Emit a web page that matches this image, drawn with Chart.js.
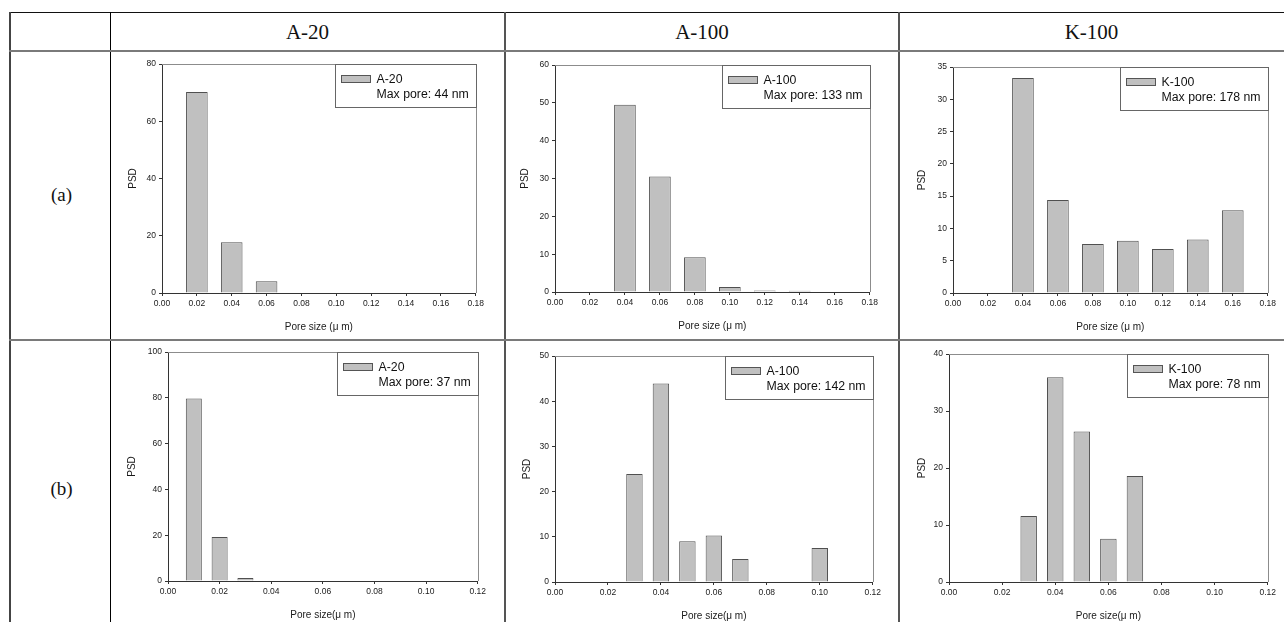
<!DOCTYPE html>
<html>
<head>
<meta charset="utf-8">
<script src="https://cdn.jsdelivr.net/npm/chart.js@4.4.1/dist/chart.umd.min.js"></script>
<style>
  body { margin: 0; width: 1284px; height: 622px; overflow: hidden; background: #fff; position: relative;
         font-family: 'Liberation Serif', 'Times New Roman', serif; color: #111; }
  .line { position: absolute; background: #333; z-index: 2; }
  .head { position: absolute; top: 12px; height: 39px; line-height: 40px; text-align: center; font-size: 21px; }
  .rowlab { position: absolute; left: 12px; width: 99px; text-align: center; font-size: 19px; line-height: 24px; }
  canvas { position: absolute; }
</style>
</head>
<body>
<!-- lignes du tableau -->
<div class="line" style="left:9px;top:12px;width:1275px;height:1px;background:#111"></div>
<div class="line" style="left:9px;top:12px;width:2px;height:610px;background:#444"></div>
<div class="line" style="left:110px;top:12px;width:1px;height:610px;background:#000"></div>
<div class="line" style="left:504px;top:12px;width:2px;height:610px;background:#555"></div>
<div class="line" style="left:898px;top:12px;width:2px;height:610px;background:#555"></div>
<div class="line" style="left:9px;top:50px;width:1275px;height:2px;background:#7a7a7a"></div>
<div class="line" style="left:9px;top:339px;width:1275px;height:2px;background:#7a7a7a"></div>

<div id="heads"></div>

<script>
// --- données ---
const panelNames = ['A-20', 'A-100', 'K-100'];
const rowLabels = ['(a)', '(b)'];
const maxPoreA = [44, 133, 178];
const maxPoreB = [37, 142, 78];
const xTitleA = 'Pore size (\u03bc m)';
const xTitleB = 'Pore size(\u03bc m)';

// ligne (a) : classes de 0.02 µm
const sizesA20a = [0.02, 0.04, 0.06];
const psdA20a = [70.2, 17.7, 4.1];
const sizesA100a = [0.04, 0.06, 0.08, 0.10, 0.12, 0.14];
const psdA100a = [49.5, 30.5, 9.2, 1.3, 0.4, 0.3];
const sizesK100a = [0.04, 0.06, 0.08, 0.10, 0.12, 0.14, 0.16];
const psdK100a = [33.3, 14.4, 7.6, 8.1, 6.8, 8.3, 12.8];

// ligne (b) : classes de 0.01 µm
const sizesA20b = [0.01, 0.02, 0.03];
const psdA20b = [79.7, 19.2, 1.3];
const sizesA100b = [0.03, 0.04, 0.05, 0.06, 0.07, 0.10];
const psdA100b = [23.9, 43.9, 9.0, 10.3, 5.1, 7.5];
const sizesK100b = [0.03, 0.04, 0.05, 0.06, 0.07];
const psdK100b = [11.6, 35.9, 26.4, 7.6, 18.6];

const xMaxA = 0.18, xMaxB = 0.12;
const yMaxA = [80, 60, 35], yStepA = [20, 10, 5];
const yMaxB = [100, 50, 40], yStepB = [20, 10, 10];

// zones de tracé (px) de chaque graphique
const plotBoxes = [
  { L: 162, T: 64, R: 479, B: 293, psdGap: 29 },
  { L: 555, T: 65, R: 873, B: 292, psdGap: 30 },
  { L: 953, T: 67, R: 1271, B: 293, psdGap: 31 },
  { L: 168, T: 352, R: 481, B: 581, psdGap: 36 },
  { L: 555, T: 356, R: 876, B: 582, psdGap: 28 },
  { L: 949, T: 354, R: 1271, B: 582, psdGap: 27 }
];

const panels = [
  { name: panelNames[0], maxPore: maxPoreA[0], sizes: sizesA20a, psd: psdA20a, xMax: xMaxA, yMax: yMaxA[0], yStep: yStepA[0], xTitle: xTitleA },
  { name: panelNames[1], maxPore: maxPoreA[1], sizes: sizesA100a, psd: psdA100a, xMax: xMaxA, yMax: yMaxA[1], yStep: yStepA[1], xTitle: xTitleA },
  { name: panelNames[2], maxPore: maxPoreA[2], sizes: sizesK100a, psd: psdK100a, xMax: xMaxA, yMax: yMaxA[2], yStep: yStepA[2], xTitle: xTitleA },
  { name: panelNames[0], maxPore: maxPoreB[0], sizes: sizesA20b, psd: psdA20b, xMax: xMaxB, yMax: yMaxB[0], yStep: yStepB[0], xTitle: xTitleB },
  { name: panelNames[1], maxPore: maxPoreB[1], sizes: sizesA100b, psd: psdA100b, xMax: xMaxB, yMax: yMaxB[1], yStep: yStepB[1], xTitle: xTitleB },
  { name: panelNames[2], maxPore: maxPoreB[2], sizes: sizesK100b, psd: psdK100b, xMax: xMaxB, yMax: yMaxB[2], yStep: yStepB[2], xTitle: xTitleB }
];

const SANS = "'Liberation Sans', Arial, sans-serif";
const YW = 52, XH = 46, PAD_T = 10, PAD_R = 8;

// en-têtes et libellés de lignes
const heads = document.getElementById('heads');
const colSpans = [[110, 505], [505, 899], [899, 1284]];
panelNames.forEach((n, i) => {
  const d = document.createElement('div');
  d.className = 'head';
  d.style.left = colSpans[i][0] + 'px';
  d.style.width = (colSpans[i][1] - colSpans[i][0]) + 'px';
  d.textContent = n;
  heads.appendChild(d);
});
[195, 489].forEach((y, i) => {
  const d = document.createElement('div');
  d.className = 'rowlab';
  d.style.top = (y - 12) + 'px';
  d.textContent = rowLabels[i];
  heads.appendChild(d);
});

// cadre haut / droite du tracé (gris)
const framePlugin = {
  id: 'frame',
  afterDraw(chart) {
    const { ctx, chartArea: a } = chart;
    ctx.save();
    ctx.strokeStyle = '#8c8c8c';
    ctx.lineWidth = 1;
    ctx.beginPath();
    ctx.moveTo(a.left, Math.round(a.top) + 0.5);
    ctx.lineTo(Math.round(a.right) + 0.5, Math.round(a.top) + 0.5);
    ctx.lineTo(Math.round(a.right) + 0.5, a.bottom);
    ctx.stroke();
    ctx.restore();
  }
};

// légende dans le coin haut droit
const legendBoxPlugin = {
  id: 'psdLegend',
  afterDraw(chart, args, opts) {
    const { ctx, chartArea: a } = chart;
    ctx.save();
    ctx.font = '12.3px ' + SANS;
    const line2 = 'Max pore: ' + opts.maxPore + ' nm';
    const w = Math.round(41 + Math.max(ctx.measureText(opts.name).width, ctx.measureText(line2).width) + 8);
    const h = 43;
    const x = Math.round(a.right) - w + 0.5, y = Math.round(a.top) + 0.5;
    ctx.fillStyle = '#fff';
    ctx.fillRect(x, y, w, h);
    ctx.strokeStyle = '#666';
    ctx.lineWidth = 1;
    ctx.strokeRect(x, y, w, h);
    ctx.fillStyle = '#c0c0c0';
    ctx.fillRect(x + 6, y + 11, 29, 7);
    ctx.strokeStyle = '#555';
    ctx.strokeRect(x + 6, y + 11, 29, 7);
    ctx.fillStyle = '#111';
    ctx.textBaseline = 'middle';
    ctx.fillText(opts.name, x + 41, y + 15);
    ctx.fillText(line2, x + 41, y + 30);
    ctx.restore();
  }
};

panels.forEach((p, i) => {
  const b = plotBoxes[i];
  const cv = document.createElement('canvas');
  const w = b.R - b.L + YW + PAD_R;
  const h = b.B - b.T + PAD_T + XH;
  cv.width = w; cv.height = h;
  cv.style.left = (b.L - YW) + 'px';
  cv.style.top = (b.T - PAD_T) + 'px';
  cv.style.width = w + 'px';
  cv.style.height = h + 'px';
  document.body.appendChild(cv);

  new Chart(cv.getContext('2d'), {
    type: 'bar',
    data: {
      datasets: [{
        label: p.name,
        data: p.sizes.map((x, k) => ({ x: x, y: p.psd[k] })),
        backgroundColor: '#c0c0c0',
        borderColor: '#505050',
        borderWidth: 1,
        barPercentage: 0.62,
        categoryPercentage: 1
      }]
    },
    options: {
      responsive: false,
      animation: false,
      layout: { padding: { left: 0, top: PAD_T, right: PAD_R, bottom: 0 } },
      plugins: {
        legend: { display: false },
        tooltip: { enabled: false },
        psdLegend: { name: p.name, maxPore: p.maxPore }
      },
      scales: {
        x: {
          type: 'linear',
          min: 0,
          max: p.xMax,
          offset: false,
          ticks: {
            stepSize: 0.02,
            autoSkip: false,
            maxRotation: 0,
            padding: 3,
            color: '#1a1a1a',
            font: { family: SANS, size: 8.5 },
            callback: v => v.toFixed(2)
          },
          grid: { offset: false, drawOnChartArea: false, tickLength: 3, color: '#333' },
          border: { display: true, color: '#333', width: 1 },
          title: { display: true, text: p.xTitle, color: '#1a1a1a', font: { family: SANS, size: 10 }, padding: { top: 0, bottom: 6 } },
          afterFit: s => { s.height = XH; }
        },
        y: {
          min: 0,
          max: p.yMax,
          ticks: { stepSize: p.yStep, padding: 3, color: '#1a1a1a', font: { family: SANS, size: 8.5 } },
          grid: { drawOnChartArea: false, tickLength: 3, color: '#333' },
          border: { display: true, color: '#333', width: 1 },
          title: { display: true, text: 'PSD', color: '#1a1a1a', font: { family: SANS, size: 10 }, padding: { top: YW - b.psdGap - 6, bottom: 0 } },
          afterFit: s => { s.width = YW; }
        }
      }
    },
    plugins: [framePlugin, legendBoxPlugin]
  });
});
</script>
</body>
</html>
